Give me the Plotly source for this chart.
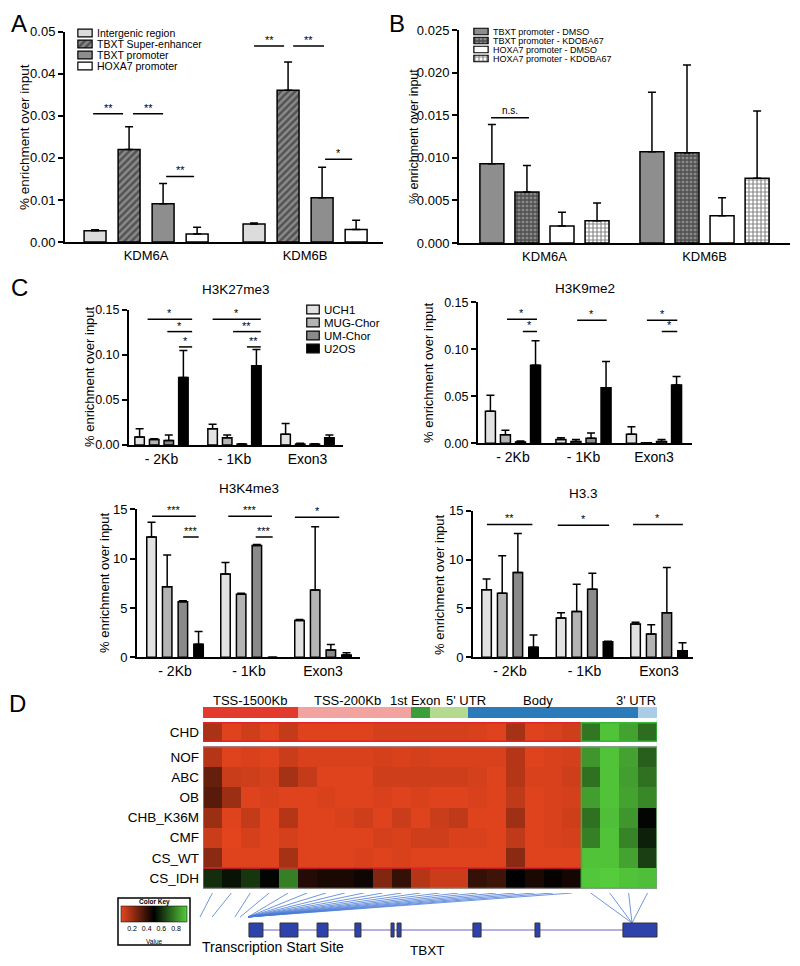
import plotly.graph_objects as go

W, H = 800, 966
FONT = "Liberation Sans, Arial, Helvetica, sans-serif"

# ---------------- Panel A data ----------------
a_categories = ["KDM6A", "KDM6B"]
a_series = ["Intergenic region", "TBXT Super-enhancer", "TBXT promoter", "HOXA7 promoter"]
a_intergenic = [0.0027, 0.0043]
a_intergenic_err = [0.0002, 0.0002]
a_super = [0.0220, 0.0361]
a_super_err = [0.0054, 0.0067]
a_tbxt = [0.0091, 0.0105]
a_tbxt_err = [0.0048, 0.0073]
a_hoxa7 = [0.0019, 0.0030]
a_hoxa7_err = [0.0016, 0.0022]
a_yticks = [0.00, 0.01, 0.02, 0.03, 0.04, 0.05]
a_sig = [(-0.333, -0.145, 0.0305, "**"), (-0.082, 0.107, 0.0305, "**"), (0.126, 0.302, 0.0156, "**"),
         (0.679, 0.868, 0.0466, "**"), (0.925, 1.119, 0.0466, "**"), (1.126, 1.296, 0.0197, "*")]

# ---------------- Panel B data ----------------
b_categories = ["KDM6A", "KDM6B"]
b_series = ["TBXT promoter - DMSO", "TBXT promoter - KDOBA67", "HOXA7 promoter - DMSO", "HOXA7 promoter - KDOBA67"]
b_tbxt_dmso = [0.0093, 0.0107]
b_tbxt_dmso_err = [0.0046, 0.0070]
b_tbxt_kdoba = [0.0060, 0.0106]
b_tbxt_kdoba_err = [0.0031, 0.0103]
b_hoxa7_dmso = [0.0020, 0.0032]
b_hoxa7_dmso_err = [0.0016, 0.0021]
b_hoxa7_kdoba = [0.0026, 0.0076]
b_hoxa7_kdoba_err = [0.0021, 0.0079]
b_yticks = [0.000, 0.005, 0.010, 0.015, 0.020, 0.025]
b_sig = [(-0.334, -0.097, 0.0147, "n.s.")]

# ---------------- Panel C data ----------------
c_categories = ["- 2Kb", "- 1Kb", "Exon3"]
c_series = ["UCH1", "MUG-Chor", "UM-Chor", "U2OS"]

k27_uch1 = [0.009, 0.018, 0.012]
k27_uch1_err = [0.009, 0.005, 0.012]
k27_mug = [0.006, 0.008, 0.001]
k27_mug_err = [0.001, 0.003, 0.001]
k27_um = [0.005, 0.001, 0.001]
k27_um_err = [0.006, 0.0005, 0.0005]
k27_u2os = [0.075, 0.088, 0.008]
k27_u2os_err = [0.030, 0.018, 0.003]
k27_sig = [(-0.19, 0.42, 0.1396, "*"), (0.08, 0.42, 0.126, "*"), (0.24, 0.42, 0.109, "*"),
           (0.70, 1.36, 0.1396, "*"), (0.98, 1.36, 0.126, "**"), (1.17, 1.36, 0.109, "**")]

k9_uch1 = [0.034, 0.004, 0.0095]
k9_uch1_err = [0.017, 0.002, 0.008]
k9_mug = [0.009, 0.002, 0.0005]
k9_mug_err = [0.005, 0.002, 0.0002]
k9_um = [0.0015, 0.0055, 0.002]
k9_um_err = [0.001, 0.0055, 0.002]
k9_u2os = [0.083, 0.059, 0.062]
k9_u2os_err = [0.026, 0.028, 0.009]
k9_sig = [(-0.085, 0.34, 0.132, "*"), (0.14, 0.34, 0.119, "*"), (0.91, 1.33, 0.131, "*"),
          (1.90, 2.33, 0.131, "*"), (2.11, 2.33, 0.119, "*")]

k4_uch1 = [12.2, 8.45, 3.72]
k4_uch1_err = [1.5, 1.15, 0.1]
k4_mug = [7.16, 6.39, 6.82]
k4_mug_err = [3.2, 0.1, 6.4]
k4_um = [5.64, 11.32, 0.74]
k4_um_err = [0.08, 0.1, 0.56]
k4_u2os = [1.32, 0.0, 0.24]
k4_u2os_err = [1.3, 0.0, 0.23]
k4_sig = [(-0.31, 0.28, 14.3, "***"), (0.11, 0.32, 12.2, "***"), (0.72, 1.31, 14.3, "***"),
          (1.09, 1.32, 12.2, "***"), (1.62, 2.22, 14.2, "*")]

h33_uch1 = [6.9, 4.03, 3.41]
h33_uch1_err = [1.1, 0.54, 0.17]
h33_mug = [6.55, 4.68, 2.39]
h33_mug_err = [3.85, 2.79, 0.95]
h33_um = [8.67, 6.96, 4.57]
h33_um_err = [3.99, 1.64, 4.61]
h33_u2os = [1.02, 1.6, 0.68]
h33_u2os_err = [1.27, 0.05, 0.82]
h33_sig = [(-0.31, 0.30, 13.6, "**"), (0.64, 1.33, 13.5, "*"), (1.65, 2.32, 13.6, "*")]

c_small_ticks = [0.00, 0.05, 0.10, 0.15]
c_large_ticks = [0, 5, 10, 15]

# ---------------- Panel D data ----------------
annot_labels = ["TSS-1500Kb", "TSS-200Kb", "1st Exon", "5' UTR", "Body", "3' UTR"]
annot_counts = [5, 6, 1, 2, 9, 1]
annot_colors = ["#e23b2e", "#f3a39f", "#3b9e3a", "#b3da8f", "#2b7bbb", "#a9cde9"]

chd_row = ["CHD"]
chd_values = [0.17, 0.07, 0.10, 0.07, 0.12, 0.07, 0.07, 0.07, 0.07, 0.09, 0.09, 0.09, 0.09, 0.09, 0.08, 0.07,
              0.18, 0.07, 0.08, 0.10, 0.76, 0.93, 0.86, 0.74]
hm_rows = ["NOF", "ABC", "OB", "CHB_K36M", "CMF", "CS_WT", "CS_IDH"]
nof = [0.15, 0.07, 0.08, 0.07, 0.11, 0.08, 0.08, 0.08, 0.08, 0.09, 0.08, 0.09, 0.08, 0.08, 0.08, 0.08,
       0.15, 0.07, 0.08, 0.09, 0.83, 0.93, 0.86, 0.71]
abc = [0.30, 0.11, 0.10, 0.09, 0.18, 0.12, 0.07, 0.07, 0.07, 0.10, 0.10, 0.10, 0.10, 0.10, 0.09, 0.07,
       0.15, 0.08, 0.08, 0.10, 0.75, 0.93, 0.85, 0.75]
ob = [0.33, 0.20, 0.07, 0.08, 0.07, 0.07, 0.08, 0.07, 0.07, 0.08, 0.07, 0.08, 0.07, 0.07, 0.08, 0.07,
      0.13, 0.07, 0.08, 0.09, 0.85, 0.93, 0.86, 0.80]
chb_k36m = [0.20, 0.07, 0.12, 0.07, 0.15, 0.07, 0.07, 0.08, 0.10, 0.07, 0.11, 0.07, 0.11, 0.13, 0.07, 0.07,
            0.19, 0.07, 0.08, 0.10, 0.75, 0.92, 0.83, 0.51]
cmf = [0.11, 0.06, 0.09, 0.07, 0.09, 0.07, 0.07, 0.07, 0.07, 0.09, 0.08, 0.10, 0.10, 0.08, 0.08, 0.07,
       0.13, 0.07, 0.08, 0.09, 0.78, 0.93, 0.79, 0.57]
cs_wt = [0.23, 0.07, 0.07, 0.07, 0.18, 0.07, 0.07, 0.07, 0.08, 0.07, 0.08, 0.07, 0.07, 0.07, 0.07, 0.07,
         0.23, 0.07, 0.07, 0.07, 0.93, 0.93, 0.86, 0.64]
cs_idh = [0.60, 0.54, 0.62, 0.51, 0.78, 0.43, 0.45, 0.45, 0.47, 0.25, 0.40, 0.15, 0.11, 0.11, 0.40, 0.38,
          0.50, 0.45, 0.49, 0.46, 0.94, 0.95, 0.93, 0.92]
key_ticks = [0.2, 0.4, 0.6, 0.8]

# gene model (in heatmap column units)
link_targets = [-0.66, -0.02, 1.19, 1.46] + [1.88] * 16 + [22.18] * 4
link_depth = [24] * 20 + [30] * 4
exon_starts = [1.93, 3.57, 5.53, 7.53, 9.44, 9.76, 13.77, 17.05, 21.70]
exon_ends = [2.67, 4.52, 6.11, 7.85, 9.60, 9.97, 14.20, 17.31, 23.50]

# ---------------------------------------------------------------
fig = go.Figure()
layout = {}
shapes = []
annotations = []


def px2x(p):
    return p / W


def px2y(p):
    return 1 - p / H


def names(i):
    s = "" if i == 1 else str(i)
    return "x" + s, "y" + s, "xaxis" + s, "yaxis" + s


def marker_from(st, lw=1.5):
    m = dict(color=st["color"], line=dict(color="black", width=lw))
    if "pattern" in st:
        m["pattern"] = st["pattern"]
    return m


def text_ann(xp, yp, text, size, xanchor="center", angle=0):
    return dict(xref="paper", yref="paper", x=px2x(xp), y=px2y(yp), text=text, showarrow=False,
                xanchor=xanchor, yanchor="middle", textangle=angle,
                font=dict(size=size, color="black", family=FONT))


a_styles = [
    dict(color="#dcdcdc"),
    dict(color="#4a4a4a", pattern=dict(shape="/", fgcolor="#1a1a1a", bgcolor="#8a8a8a", size=5, solidity=0.5)),
    dict(color="#8e8e8e"),
    dict(color="#ffffff"),
]
b_styles = [
    dict(color="#8e8e8e"),
    dict(color="#444444", pattern=dict(shape="+", fgcolor="#111111", bgcolor="#8a8a8a", size=4, solidity=0.55)),
    dict(color="#ffffff"),
    dict(color="#888888", pattern=dict(shape="+", fgcolor="#111111", bgcolor="#ffffff", size=4, solidity=0.5)),
]
c_styles = [dict(color="#e2e2e2"), dict(color="#b4b4b4"), dict(color="#8a8a8a"), dict(color="#000000")]

panels = [
    dict(i=1, cats=a_categories, means=[a_intergenic, a_super, a_tbxt, a_hoxa7],
         errs=[a_intergenic_err, a_super_err, a_tbxt_err, a_hoxa7_err], styles=a_styles,
         xpx=(65, 383), ypx=(31.7, 242), xr=(-0.51, 1.49), yt=a_yticks, fmt=".2f",
         offs=[-0.321, -0.107, 0.107, 0.321], w=0.138, sig=a_sig, star=11, tickf=13, catf=13),
    dict(i=2, cats=b_categories, means=[b_tbxt_dmso, b_tbxt_kdoba, b_hoxa7_dmso, b_hoxa7_kdoba],
         errs=[b_tbxt_dmso_err, b_tbxt_kdoba_err, b_hoxa7_dmso_err, b_hoxa7_kdoba_err], styles=b_styles,
         xpx=(459, 790), ypx=(30, 243), xr=(-0.534, 1.534), yt=b_yticks, fmt=".3f",
         offs=[-0.3285, -0.1095, 0.1095, 0.3285], w=0.15, sig=b_sig, star=10, tickf=13, catf=13),
    dict(i=3, cats=c_categories, means=[k27_uch1, k27_mug, k27_um, k27_u2os],
         errs=[k27_uch1_err, k27_mug_err, k27_um_err, k27_u2os_err], styles=c_styles,
         xpx=(129, 343), ypx=(310, 445), xr=(-0.445, 2.486), yt=c_small_ticks, fmt=".2f",
         offs=[-0.3, -0.1, 0.1, 0.3], w=0.13, sig=k27_sig, star=11, tickf=12.5, catf=14),
    dict(i=4, cats=c_categories, means=[k9_uch1, k9_mug, k9_um, k9_u2os],
         errs=[k9_uch1_err, k9_mug_err, k9_um_err, k9_u2os_err], styles=c_styles,
         xpx=(478, 692), ypx=(302.3, 443.3), xr=(-0.496, 2.539), yt=c_small_ticks, fmt=".2f",
         offs=[-0.32, -0.107, 0.107, 0.32], w=0.142, sig=k9_sig, star=11, tickf=12.5, catf=14),
    dict(i=5, cats=c_categories, means=[k4_uch1, k4_mug, k4_um, k4_u2os],
         errs=[k4_uch1_err, k4_mug_err, k4_um_err, k4_u2os_err], styles=c_styles,
         xpx=(137, 360), ypx=(509.3, 657.3), xr=(-0.514, 2.5), yt=c_large_ticks, fmt="d",
         offs=[-0.318, -0.106, 0.106, 0.318], w=0.128, sig=k4_sig, star=11, tickf=13, catf=14),
    dict(i=6, cats=c_categories, means=[h33_uch1, h33_mug, h33_um, h33_u2os],
         errs=[h33_uch1_err, h33_mug_err, h33_um_err, h33_u2os_err], styles=c_styles,
         xpx=(473, 693), ypx=(510.7, 657.3), xr=(-0.497, 2.456), yt=c_large_ticks, fmt="d",
         offs=[-0.315, -0.105, 0.105, 0.315], w=0.128, sig=h33_sig, star=11, tickf=13, catf=14),
]

for p in panels:
    xa, ya, xk, yk = names(p["i"])
    xs = list(range(len(p["cats"])))
    for m, e, st, off in zip(p["means"], p["errs"], p["styles"], p["offs"]):
        fig.add_trace(go.Bar(
            x=xs, y=m, width=p["w"], offset=off - p["w"] / 2,
            marker=marker_from(st),
            error_y=dict(type="data", array=e, arrayminus=[0] * len(e), symmetric=False,
                         color="black", thickness=1.5, width=4),
            xaxis=xa, yaxis=ya, showlegend=False, hoverinfo="skip", cliponaxis=False))
    layout[xk] = dict(domain=[px2x(p["xpx"][0]), px2x(p["xpx"][1])], range=list(p["xr"]), anchor=ya,
                      tickmode="array", tickvals=xs, ticktext=p["cats"], showline=True, linecolor="black",
                      linewidth=2, ticks="", showgrid=False, zeroline=False,
                      tickfont=dict(size=p["catf"], color="black", family=FONT))
    layout[yk] = dict(domain=[px2y(p["ypx"][1]), px2y(p["ypx"][0])], range=[p["yt"][0], p["yt"][-1]],
                      anchor=xa, tickmode="array", tickvals=p["yt"], tickformat=p["fmt"], showline=True,
                      linecolor="black", linewidth=2, ticks="outside", ticklen=5, tickwidth=1.5,
                      tickcolor="black", showgrid=False, zeroline=False,
                      tickfont=dict(size=p["tickf"], color="black", family=FONT))
    for x0, x1, yv, lab in p["sig"]:
        shapes.append(dict(type="line", xref=xa, yref=ya, x0=x0, x1=x1, y0=yv, y1=yv,
                           line=dict(color="black", width=1.5)))
        annotations.append(dict(xref=xa, yref=ya, x=(x0 + x1) / 2, y=yv, text=lab, showarrow=False,
                                xanchor="center", yanchor="bottom", yshift=-2 if lab != "n.s." else 0,
                                font=dict(size=p["star"], color="#000000", family=FONT)))


# ---- legends (drawn as swatch bars on small helper axes) ----
def legend_block(i, labels, styles, x0, x1, ytop, ybot, fsize, thick):
    xa, ya, xk, yk = names(i)
    for lab, st in zip(labels, styles):
        fig.add_trace(go.Bar(orientation="h", y=[lab], x=[1], width=thick, marker=marker_from(st, 1.2),
                             xaxis=xa, yaxis=ya, showlegend=False, hoverinfo="skip"))
    layout[xk] = dict(domain=[px2x(x0), px2x(x1)], range=[-0.06, 1.06], visible=False, anchor=ya)
    layout[yk] = dict(domain=[px2y(ybot), px2y(ytop)], type="category", categoryorder="array",
                      categoryarray=labels, autorange="reversed", side="right", anchor=xa,
                      tickmode="array", tickvals=labels, ticktext=labels,
                      showline=False, ticks="", showgrid=False, zeroline=False, ticklabelstandoff=3,
                      tickfont=dict(size=fsize, color="black", family=FONT))


legend_block(11, a_series, a_styles, 77, 93, 27.5, 71.5, 10.5, 0.7)
legend_block(12, b_series, b_styles, 473, 489, 27, 63, 9, 0.72)
legend_block(13, c_series, c_styles, 306, 320, 303, 355, 11.5, 0.66)

# ---------------- Panel D: heatmap ----------------
hm_scale = [[0, "#e8461e"], [0.5, "#000000"], [1, "#55cc3c"]]
ncol = len(chd_values)
cols = list(range(ncol))

annot_codes = []
for k, c in enumerate(annot_counts):
    annot_codes += [k] * c
annot_scale = []
for k, c in enumerate(annot_colors):
    annot_scale += [[k / len(annot_colors), c], [(k + 1) / len(annot_colors), c]]

fig.add_trace(go.Heatmap(z=[annot_codes], x=cols, y=[0], colorscale=annot_scale, zmin=-0.5,
                         zmax=len(annot_colors) - 0.5, showscale=False, xaxis="x7", yaxis="y7",
                         hoverinfo="skip"))
fig.add_trace(go.Heatmap(z=[chd_values], x=cols, y=chd_row, colorscale=hm_scale, zmin=0.05, zmax=0.95,
                         showscale=False, xaxis="x8", yaxis="y8", hoverinfo="skip"))
fig.add_trace(go.Heatmap(z=[nof, abc, ob, chb_k36m, cmf, cs_wt, cs_idh], x=cols, y=hm_rows,
                         colorscale=hm_scale, zmin=0.05, zmax=0.95, xaxis="x9", yaxis="y9",
                         hoverinfo="skip",
                         colorbar=dict(orientation="h", x=px2x(154), xanchor="center", y=px2y(906),
                                       yanchor="top", len=66, lenmode="pixels", thickness=16,
                                       thicknessmode="pixels", tickvals=key_ticks,
                                       ticktext=[str(v) for v in key_ticks], ticks="",
                                       tickfont=dict(size=7, color="black", family=FONT),
                                       outlinewidth=0.5, outlinecolor="black", xpad=0, ypad=0)))

hx = [px2x(203), px2x(657)]
for i, (ytop, ybot) in zip([7, 8, 9], [(707, 718), (722, 742), (746, 889)]):
    xa, ya, xk, yk = names(i)
    layout[xk] = dict(domain=hx, range=[-0.5, ncol - 0.5], visible=False, anchor=ya)
    layout[yk] = dict(domain=[px2y(ybot), px2y(ytop)], anchor=xa, showline=False, ticks="",
                      showgrid=False, zeroline=False, ticklabelstandoff=3,
                      tickfont=dict(size=13.5, color="black", family=FONT))
layout["yaxis7"]["visible"] = False
layout["yaxis9"]["autorange"] = "reversed"
layout["yaxis9"]["tickmode"] = "array"
layout["yaxis9"]["tickvals"] = hm_rows
layout["yaxis9"]["ticktext"] = hm_rows

# borders around heatmap blocks
shapes += [
    dict(type="rect", xref="x8", yref="y8", x0=-0.5, x1=19.5, y0=-0.5, y1=0.5, line=dict(color="#e8202a", width=1.5)),
    dict(type="rect", xref="x8", yref="y8", x0=19.5, x1=23.5, y0=-0.5, y1=0.5, line=dict(color="#33bb33", width=1.5)),
    dict(type="rect", xref="x9", yref="y9", x0=-0.5, x1=19.5, y0=-0.5, y1=5.5, line=dict(color="#e8202a", width=1.5)),
    dict(type="rect", xref="x9", yref="y9", x0=19.5, x1=23.5, y0=-0.5, y1=6.5, line=dict(color="#33bb33", width=1.5)),
    dict(type="rect", xref="x9", yref="y9", x0=-0.5, x1=23.5, y0=-0.5, y1=6.5, line=dict(color="#9a9a9a", width=1)),
]

# annotation-bar labels
annot_label_px = [250, 347, 415, 466, 538, 636]
for lab, xp in zip(annot_labels, annot_label_px):
    annotations.append(text_ann(xp, 700, lab, 13))

# links and gene model
lx, ly = [], []
for c, t, d in zip(cols, link_targets, link_depth):
    lx += [c, t, None]
    ly += [0, d, None]
fig.add_trace(go.Scatter(x=lx, y=ly, mode="lines", line=dict(color="#4a7bd6", width=0.8),
                         xaxis="x10", yaxis="y10", showlegend=False, hoverinfo="skip"))
fig.add_trace(go.Scatter(x=[exon_ends[0], exon_starts[-1]], y=[37, 37], mode="lines",
                         line=dict(color="#6f5fc8", width=1), xaxis="x10", yaxis="y10",
                         showlegend=False, hoverinfo="skip"))
for s, e in zip(exon_starts, exon_ends):
    shapes.append(dict(type="rect", xref="x10", yref="y10", x0=s, x1=e, y0=30, y1=44,
                       fillcolor="#2d43ab", line=dict(color="#333333", width=1)))
layout["xaxis10"] = dict(domain=[px2x(190), px2x(660)], range=[-1.187, 23.659], visible=False, anchor="y10")
layout["yaxis10"] = dict(domain=[px2y(942), px2y(893)], range=[49, 0], visible=False, anchor="x10")

# colour key box and labels
shapes.append(dict(type="rect", xref="paper", yref="paper", x0=px2x(118), x1=px2x(190),
                   y0=px2y(945), y1=px2y(898), line=dict(color="black", width=1.5)))
annotations.append(text_ann(154, 902, "<b>Color Key</b>", 6.5))
annotations.append(text_ann(154, 941, "Value", 6.5))
annotations.append(text_ann(200, 947, "Transcription Start Site", 14, xanchor="left"))
annotations.append(text_ann(408, 950, "TBXT", 13.5, xanchor="left"))

# y axis titles
for xp, yp, fs in [(24, 137, 13.5), (414, 136, 12.5), (89, 377, 13), (429, 373, 13), (104, 583, 13), (439, 584, 13)]:
    annotations.append(text_ann(xp, yp, "% enrichment over input", fs, angle=-90))

# panel titles
for t, xp, yp in [("H3K27me3", 236, 289), ("H3K9me2", 585, 288), ("H3K4me3", 249, 488), ("H3.3", 583, 493)]:
    annotations.append(text_ann(xp, yp, t, 13.5))

# panel letters
for t, xp, yp in [("A", 19, 23), ("B", 397, 23), ("C", 19, 287), ("D", 17, 703)]:
    annotations.append(text_ann(xp, yp, t, 24))

fig.update_layout(width=W, height=H, margin=dict(l=0, r=0, t=0, b=0, pad=0, autoexpand=False),
                  paper_bgcolor="white", plot_bgcolor="white", barmode="overlay", showlegend=False,
                  font=dict(family=FONT, color="black"), shapes=shapes, annotations=annotations, **layout)

fig.write_html("out.html", config={"displayModeBar": False},
               post_script="document.body.style.margin='0px';")
